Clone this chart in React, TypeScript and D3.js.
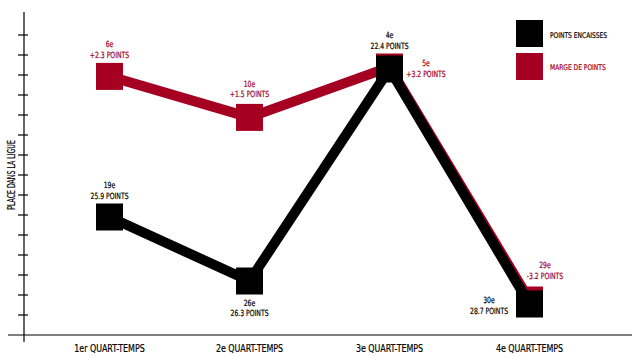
import React from "react";
import * as d3 from "d3";

const categories = ["1er QUART-TEMPS", "2e QUART-TEMPS", "3e QUART-TEMPS", "4e QUART-TEMPS"];
// plotted level on the "place dans la ligue" axis (tick units)
const encaissesLevel = [5.9, 2.7, 13.3, 1.55];
const margeLevel = [12.93, 10.88, 13.4, 1.75];
const encaissesRank = ["19e", "26e", "4e", "30e"];
const encaissesPoints = ["25.9 POINTS", "26.3 POINTS", "22.4 POINTS", "28.7 POINTS"];
const margeRank = ["6e", "10e", "5e", "29e"];
const margePoints = ["+2.3 POINTS", "+1.5 POINTS", "+3.2 POINTS", "-3.2 POINTS"];
const yTicks = d3.range(1, 16);
const seriesNames = ["POINTS ENCAISSES", "MARGE DE POINTS"];

const W = 640;
const H = 358;
const BLACK = "#000000";
const RED = "#a50021";
const FONT = "'DejaVu Sans Condensed', 'Liberation Sans Narrow', 'Roboto', sans-serif";
const SQ = 27;

// label placement per point: [dx, dy line1, dy line2]
const encaissesPlace: [number, number, number][] = [
  [0, -29.5, -18],
  [0, 24.5, 35],
  [0, -31, -20],
  [-40.5, -1, 9.5],
];
const margePlace: [number, number, number][] = [
  [0, -29, -18],
  [0, -30, -20.5],
  [36.5, -1, 9.7],
  [15.5, -32, -21.5],
];

function T(props: {
  x: number;
  y: number;
  size: number;
  sx: number;
  fill: string;
  anchor?: string;
  rotate?: number;
  children: React.ReactNode;
}) {
  const { x, y, size, sx, fill, anchor = "middle", rotate = 0, children } = props;
  return (
    <text
      transform={`translate(${x},${y}) rotate(${rotate}) scale(${sx},1)`}
      fontSize={size}
      fill={fill}
      stroke={fill}
      strokeWidth={0.2}
      textAnchor={anchor}
    >
      {children}
    </text>
  );
}

export default function App() {
  const x = d3.scalePoint<string>().domain(categories).range([109.5, 529.5]);
  const y = d3.scaleLinear().domain([0, 16]).range([335, 15]);

  const line = d3
    .line<number>()
    .x((_, i) => x(categories[i]) as number)
    .y((d) => y(d));

  const series = [
    { name: seriesNames[1], values: margeLevel, color: RED, ranks: margeRank, pts: margePoints, place: margePlace },
    { name: seriesNames[0], values: encaissesLevel, color: BLACK, ranks: encaissesRank, pts: encaissesPoints, place: encaissesPlace },
  ];

  return (
    <svg
      width={W}
      height={H}
      style={{ position: "absolute", left: 0, top: 0, background: "#fff" }}
      fontFamily={FONT}
    >
      {/* axes */}
      <line x1={24} x2={24} y1={12} y2={342} stroke="#000" strokeWidth={1.2} />
      <line x1={8} x2={632} y1={y(0)} y2={y(0)} stroke="#000" strokeWidth={1.2} />
      {yTicks.map((t) => (
        <line key={t} x1={18} x2={28} y1={y(t)} y2={y(t)} stroke="#000" strokeWidth={1.2} />
      ))}
      <T x={14.5} y={175} size={10.5} sx={0.66} fill="#000" rotate={-90}>
        PLACE DANS LA LIGUE
      </T>
      {categories.map((c) => (
        <T key={c} x={x(c) as number} y={351.5} size={11} sx={0.8} fill="#000">
          {c}
        </T>
      ))}

      {/* series */}
      {series.map((s) => (
        <g key={s.name}>
          <path d={line(s.values) || ""} fill="none" stroke={s.color} strokeWidth={10} strokeLinejoin="miter" />
          {s.values.map((v, i) => (
            <rect
              key={i}
              x={(x(categories[i]) as number) - SQ / 2}
              y={y(v) - SQ / 2}
              width={SQ}
              height={SQ}
              fill={s.color}
            />
          ))}
        </g>
      ))}

      {/* labels */}
      {series.map((s) =>
        s.values.map((v, i) => {
          const cx = (x(categories[i]) as number) + s.place[i][0];
          const cy = y(v);
          return (
            <g key={s.name + i}>
              <T x={cx} y={cy + s.place[i][1]} size={8.5} sx={0.8} fill={s.color}>{s.ranks[i]}</T>
              <T x={cx} y={cy + s.place[i][2]} size={8.5} sx={0.8} fill={s.color}>{s.pts[i]}</T>
            </g>
          );
        })
      )}

      {/* legend */}
      <rect x={516} y={20} width={SQ} height={SQ} fill={BLACK} />
      <T x={550} y={38} size={7.8} sx={0.85} fill={BLACK} anchor="start">{seriesNames[0]}</T>
      <rect x={516} y={53} width={SQ} height={SQ} fill={RED} />
      <T x={550} y={69.5} size={7.8} sx={0.85} fill={RED} anchor="start">{seriesNames[1]}</T>
    </svg>
  );
}
